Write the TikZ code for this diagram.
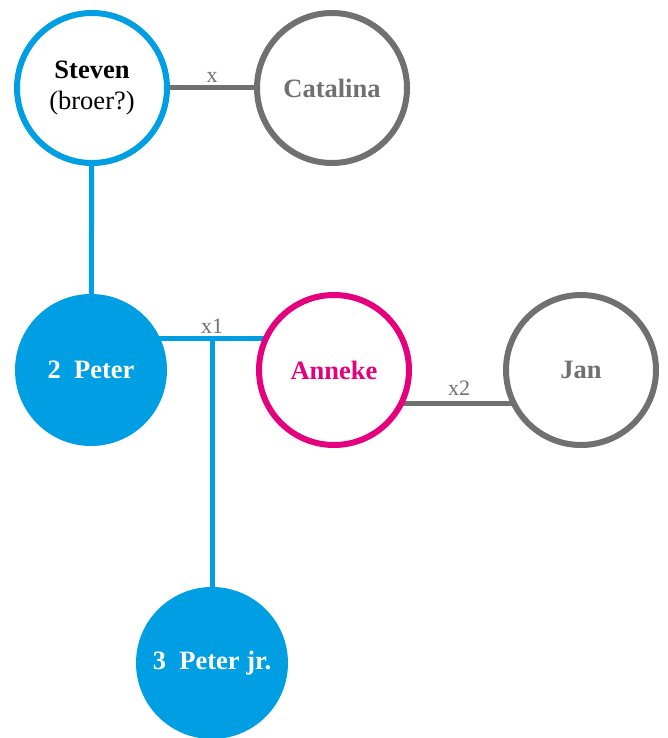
\documentclass[tikz,border=0pt]{standalone}
\usepackage{fontspec}
\setmainfont{Liberation Serif}
\usetikzlibrary{backgrounds}
\definecolor{ablue}{RGB}{0,159,227}
\definecolor{amag}{RGB}{229,0,126}
\definecolor{agray}{RGB}{112,112,112}
\tikzset{
  person/.style={circle, inner sep=0pt, minimum size=150pt, line width=6pt, fill=white, align=center, font=\fontsize{26.5}{31}\selectfont\bfseries},
  filledperson/.style={circle, inner sep=0pt, minimum size=152pt, fill=ablue, text=white, font=\fontsize{26.5}{31}\selectfont\bfseries},
  blueline/.style={draw=ablue, line width=5pt},
  grayline/.style={draw=agray, line width=5pt},
  marr/.style={text=agray, font=\fontsize{22}{24}\selectfont, inner sep=0pt},
}
\begin{document}
\begin{tikzpicture}[x=1pt,y=-1pt]
\useasboundingbox (0,0) rectangle (668,738);
\node[person, draw=ablue] (steven) at (92,88) {Steven\\{\mdseries (broer?)}};
\node[person, draw=agray, text=agray] (catalina) at (332,88) {Catalina};
\node[filledperson] (peter) at (91,370) {2\ \ Peter};
\node[person, draw=amag, text=amag] (anneke) at (334,370) {Anneke};
\node[person, draw=agray, text=agray] (jan) at (581,370) {Jan};
\node[filledperson] (peterjr) at (212,663) {3\ \ Peter jr.};
\coordinate (j1) at (212,338);
\node[marr] (lx) at (212,77) {x};
\node[marr] (lx1) at (212,326) {x1};
\node[marr] (lx2) at (459,388) {x2};
\begin{scope}[on background layer]
\draw[grayline] (steven.center) -- (catalina.center);
\draw[blueline] (steven.center) -- (peter.center);
\draw[blueline] ([yshift=32pt]peter.center) -- ([yshift=32pt]anneke.center);
\draw[blueline] (j1) -- (peterjr.center);
\draw[grayline] ([yshift=-33pt]anneke.center) -- ([yshift=-33pt]jan.center);
\end{scope}
\end{tikzpicture}
\end{document}
